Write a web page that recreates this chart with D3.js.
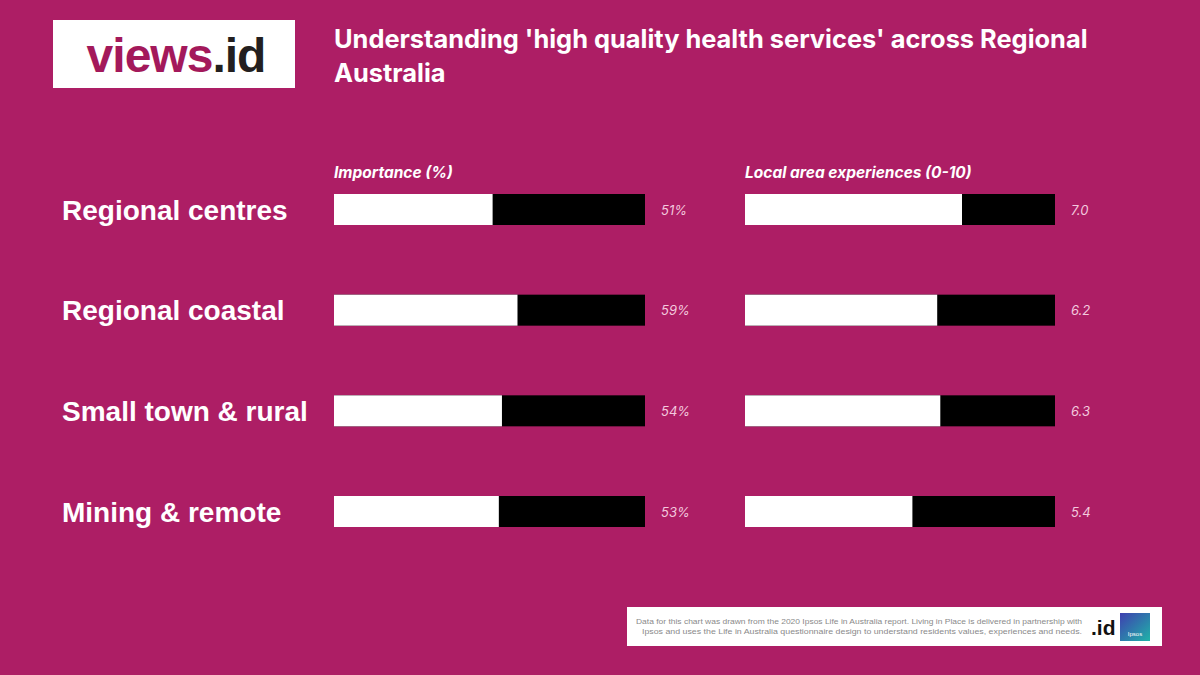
<!DOCTYPE html>
<html><head><meta charset="utf-8">
<script src="https://cdn.jsdelivr.net/npm/d3@7"></script>
<style>html,body{margin:0;padding:0;background:#ad1e65;}svg{display:block;}</style>
</head><body>
<svg id="c" width="1200" height="675"></svg>
<script>
const categories = ["Regional centres","Regional coastal","Small town & rural","Mining & remote"];
const importance = [51, 59, 54, 53];
const experience = [7.0, 6.2, 6.3, 5.4];
const importanceLabels = ["51%","59%","54%","53%"];
const experienceLabels = ["7.0","6.2","6.3","5.4"];
const headers = ["Importance (%)","Local area experiences (0-10)"];
const titleLines = ["Understanding 'high quality health services' across Regional","Australia"];
const footerLines = ["Data for this chart was drawn from the 2020 Ipsos Life in Australia report. Living in Place is delivered in partnership with","Ipsos and uses the Life in Australia questionnaire design to understand residents values, experiences and needs."];

const BG = "#ad1e65";
const svg = d3.select("#c");
svg.append("rect").attr("width",1200).attr("height",675).attr("fill",BG);

// logo
svg.append("rect").attr("x",53).attr("y",20).attr("width",242).attr("height",68).attr("fill","#fff");
const logo = svg.append("text").attr("x",176).attr("y",72).attr("text-anchor","middle")
  .attr("font-family","Liberation Sans, Arial, sans-serif").attr("font-weight","bold")
  .attr("font-size",48).attr("letter-spacing","-1");
logo.append("tspan").attr("fill","#a3195b").text("views");
logo.append("tspan").attr("fill","#231f20").text(".id");

// title
svg.append("g").selectAll("text").data(titleLines).join("text")
  .attr("x",334).attr("y",(d,i)=>48+i*34)
  .attr("font-family","Inter, sans-serif").attr("font-weight","bold").attr("font-size",25.4)
  .attr("fill","#fff").text(d=>d);

// scales
const y = d3.scalePoint().domain(categories).range([209.5,511.5]);
const barH = 31;
const xImp = d3.scaleLinear().domain([0,100]).range([334,645]);
const xExp = d3.scaleLinear().domain([0,10]).range([745,1055]);

// headers
svg.append("g").selectAll("text").data(headers).join("text")
  .attr("x",(d,i)=>i===0?xImp(0):xExp(0)).attr("y",178)
  .attr("font-family","Inter, sans-serif").attr("font-weight","bold").attr("font-style","italic")
  .attr("font-size",15.5).attr("fill","#fff").text(d=>d);

// category labels
svg.append("g").selectAll("text").data(categories).join("text")
  .attr("x",62).attr("y",d=>y(d)+10)
  .attr("font-family","Liberation Sans, Arial, sans-serif").attr("font-weight","bold")
  .attr("font-size",28).attr("fill","#fff").text(d=>d);

function panel(vals, labels, x) {
  const g = svg.append("g");
  g.selectAll("rect.bg").data(categories).join("rect").attr("class","bg")
    .attr("x",x.range()[0]).attr("y",d=>y(d)-barH/2)
    .attr("width",x.range()[1]-x.range()[0]).attr("height",barH).attr("fill","#000");
  g.selectAll("rect.v").data(vals).join("rect").attr("class","v")
    .attr("x",x(0)).attr("y",(d,i)=>y(categories[i])-barH/2)
    .attr("width",d=>x(d)-x(0)).attr("height",barH).attr("fill","#fff");
  g.selectAll("text").data(labels).join("text")
    .attr("x",x.range()[1]+16).attr("y",(d,i)=>y(categories[i])+5)
    .attr("font-family","Inter, sans-serif").attr("font-style","italic")
    .attr("font-size",13).attr("fill","#f3c9de").text(d=>d);
}
panel(importance, importanceLabels, xImp);
panel(experience, experienceLabels, xExp);

// footer
svg.append("rect").attr("x",627).attr("y",607).attr("width",535).attr("height",39).attr("fill","#fff");
svg.append("g").selectAll("text").data(footerLines).join("text")
  .attr("x",1082).attr("y",(d,i)=>624+i*10).attr("text-anchor","end")
  .attr("font-family","Liberation Sans, Arial, sans-serif").attr("font-size",8)
  .attr("textLength",(d,i)=>i===0?446:440).attr("lengthAdjust","spacingAndGlyphs")
  .attr("fill","#8a8a8a").text(d=>d);
svg.append("text").attr("x",1091).attr("y",635)
  .attr("font-family","Liberation Sans, Arial, sans-serif").attr("font-weight","bold")
  .attr("font-size",21).attr("fill","#111").text(".id");
const grad = svg.append("defs").append("linearGradient").attr("id","ip").attr("x1",0).attr("y1",0).attr("x2",1).attr("y2",1);
grad.append("stop").attr("offset","0%").attr("stop-color","#3f3fb0");
grad.append("stop").attr("offset","100%").attr("stop-color","#1fb3a8");
svg.append("rect").attr("x",1120).attr("y",613).attr("width",30).attr("height",28).attr("fill","url(#ip)");
svg.append("text").attr("x",1135).attr("y",636).attr("text-anchor","middle")
  .attr("font-family","Liberation Sans, Arial, sans-serif").attr("font-size",6).attr("fill","#fff").text("Ipsos");
</script>
</body></html>
